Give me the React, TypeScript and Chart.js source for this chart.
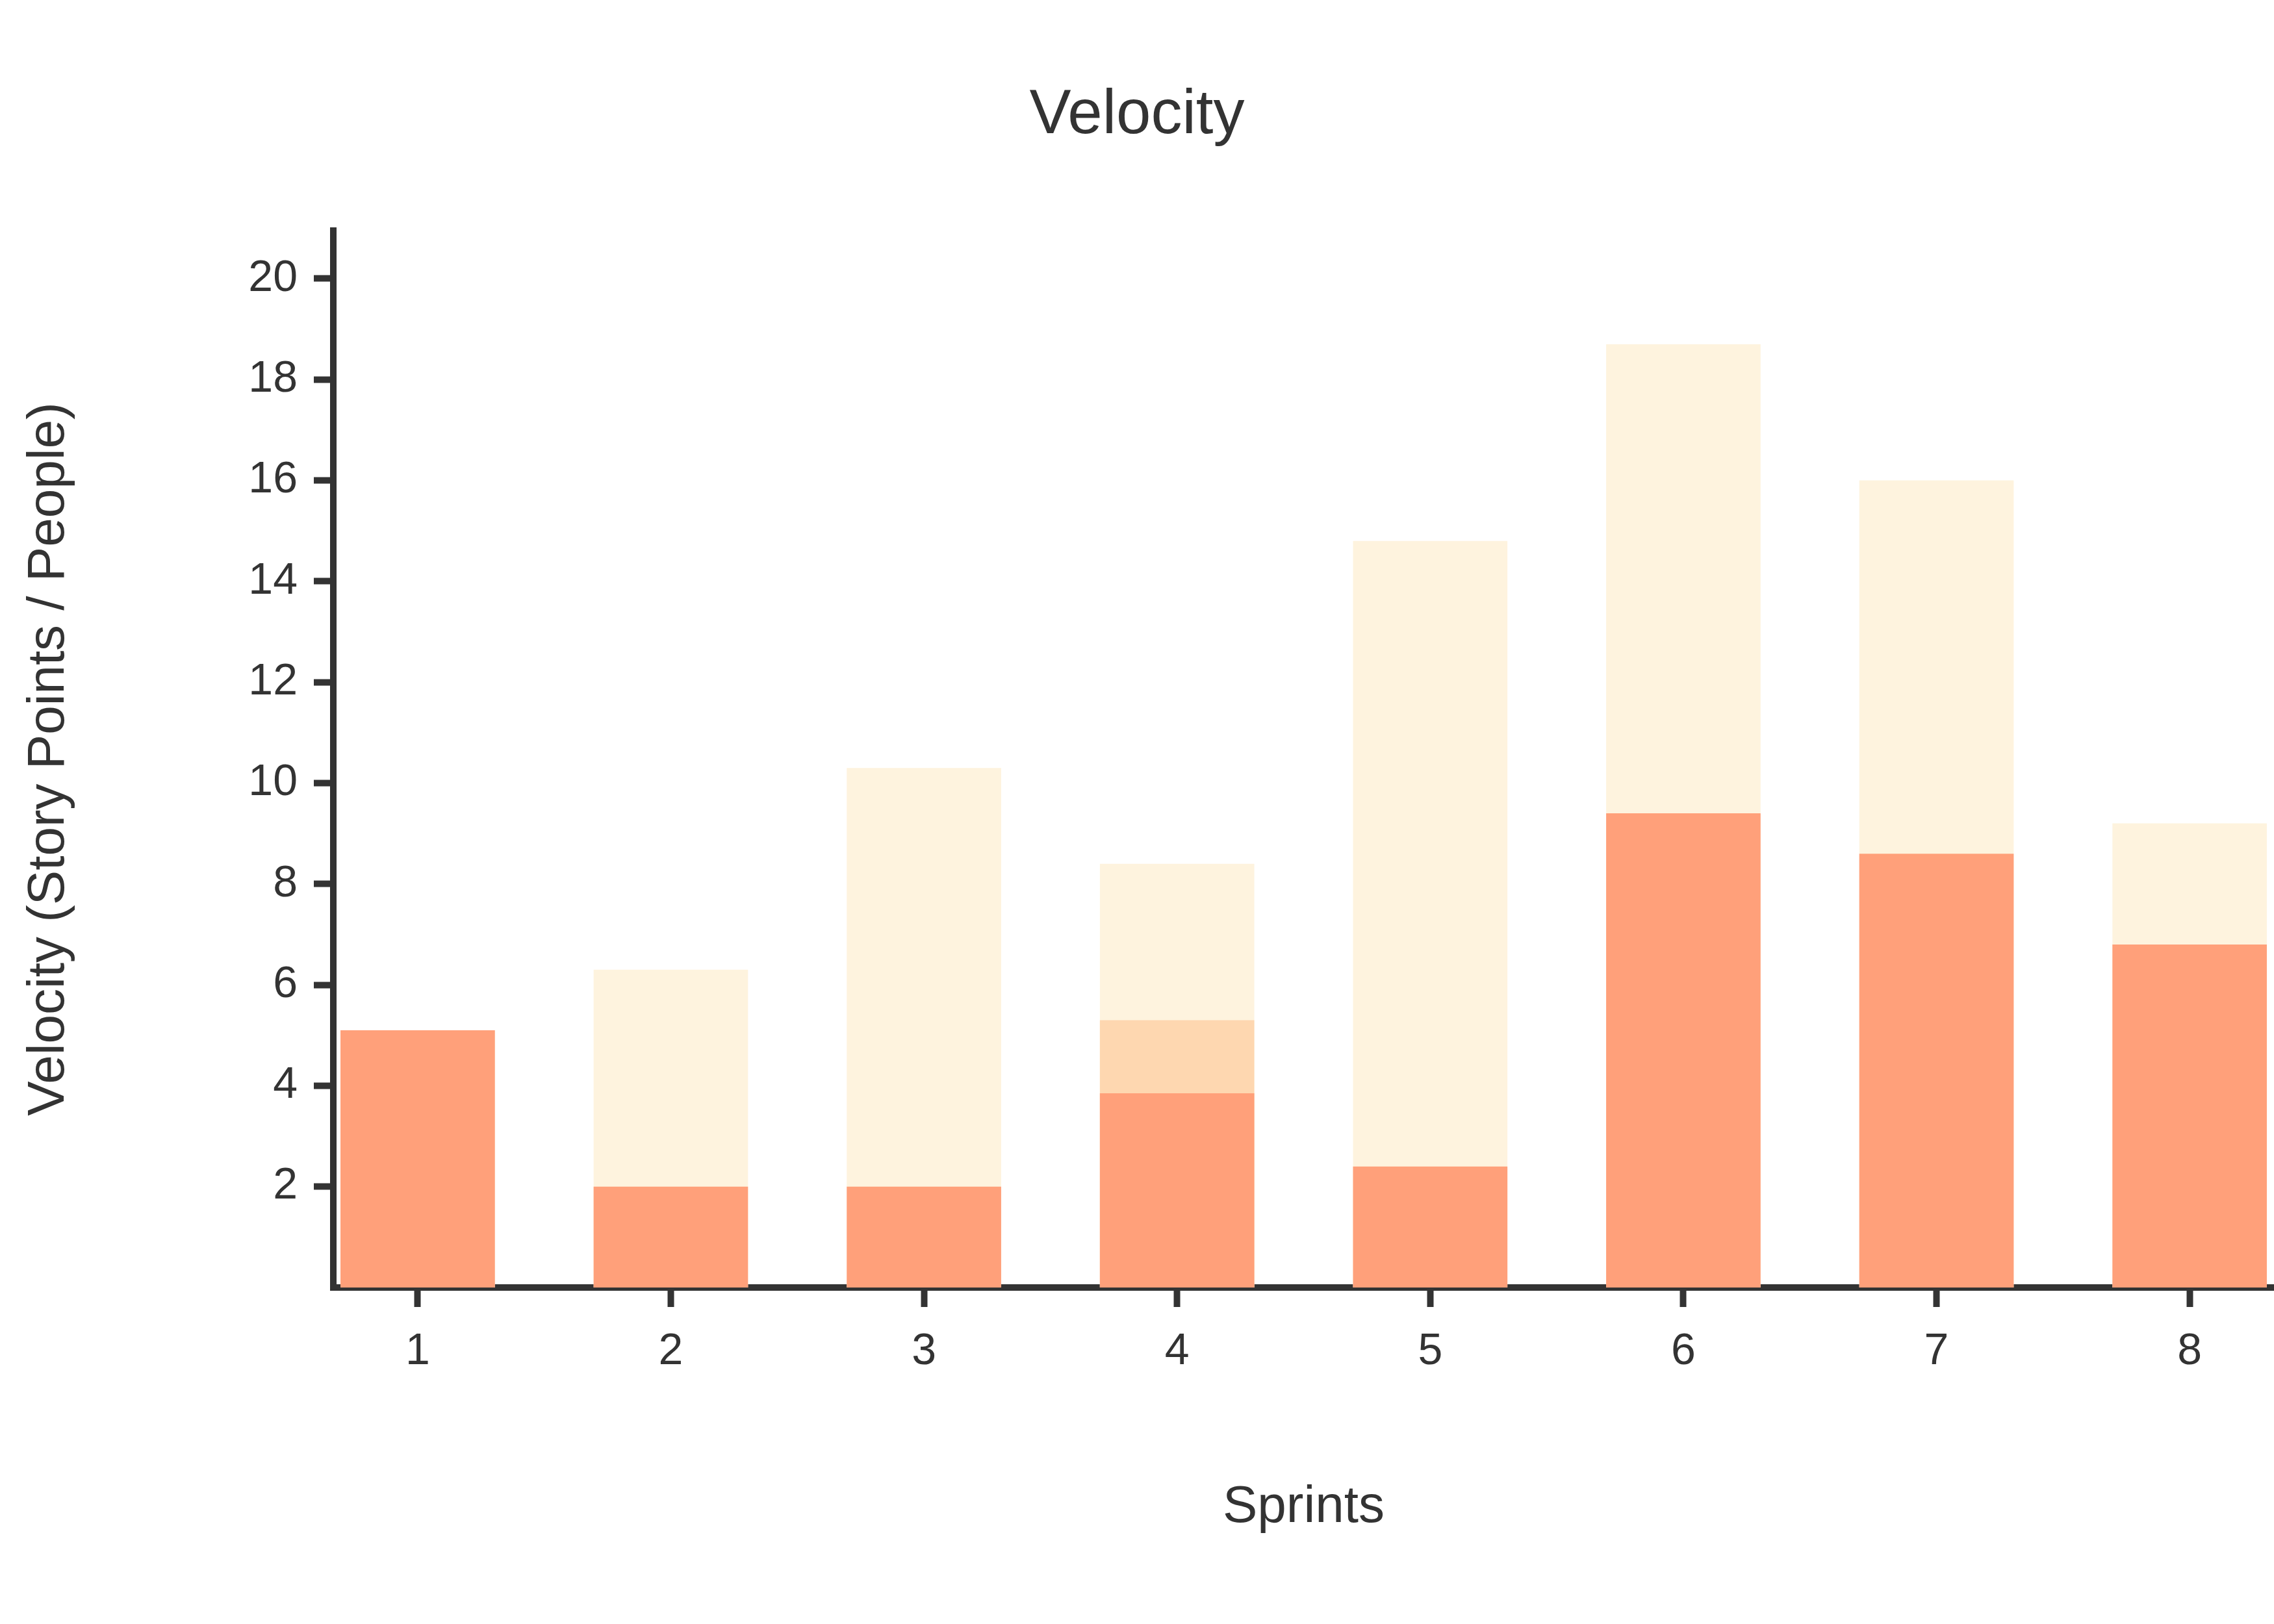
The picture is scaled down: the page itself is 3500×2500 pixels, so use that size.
import React, { useEffect, useRef } from "react";
import { Chart, registerables } from "chart.js";

Chart.register(...registerables);

// ---- data ----
const sprints = [1, 2, 3, 4, 5, 6, 7, 8];
const committed = [5.1, 6.3, 10.3, 8.4, 14.8, 18.7, 16.0, 9.2];
const partial: (number | null)[] = [null, null, null, 5.3, null, null, null, null];
const completed = [5.1, 2.0, 2.0, 3.85, 2.4, 9.4, 8.6, 6.8];
const yTickValues = [2, 4, 6, 8, 10, 12, 14, 16, 18, 20];
const xTickValues = sprints;

const TEXT = "#333333";
const FONT = "'Liberation Sans', Arial, Helvetica, sans-serif";

const toPoints = (vals: (number | null)[]) =>
  sprints.map((s, i) => ({ x: s, y: vals[i] }));

export default function App() {
  const ref = useRef<HTMLCanvasElement | null>(null);

  useEffect(() => {
    if (!ref.current) return;
    const chart = new Chart(ref.current, {
      type: "bar",
      data: {
        datasets: [
          {
            label: "Completed",
            data: toPoints(completed) as any,
            backgroundColor: "#FFA07A",
            borderWidth: 0,
          },
          {
            label: "Partially completed",
            data: toPoints(partial) as any,
            backgroundColor: "#FED7B0",
            borderWidth: 0,
          },
          {
            label: "Committed",
            data: toPoints(committed) as any,
            backgroundColor: "#FEF3DE",
            borderWidth: 0,
          },
        ],
      },
      options: {
        responsive: false,
        animation: false,
        devicePixelRatio: 1,
        datasets: {
          bar: {
            grouped: false,
            categoryPercentage: 1,
            barPercentage: 0.61,
          },
        },
        layout: { padding: 0 },
        plugins: {
          legend: { display: false },
          tooltip: { enabled: false },
          title: {
            display: true,
            text: "Velocity",
            color: TEXT,
            font: { family: FONT, size: 96, weight: "normal" },
            padding: { top: 121, bottom: 119 },
          },
        },
        scales: {
          x: {
            type: "linear",
            offset: false,
            min: 2 / 3,
            max: 8 + 1 / 3,
            afterBuildTicks: (scale: any) => {
              scale.ticks = xTickValues.map((v) => ({ value: v }));
            },
            afterFit: (scale: any) => {
              scale.height = 518;
            },
            ticks: {
              color: TEXT,
              font: { family: FONT, size: 68 },
              padding: 28,
              autoSkip: false,
              maxRotation: 0,
              callback: (v: any) => String(v),
            },
            grid: {
              display: true,
              offset: false,
              drawOnChartArea: false,
              drawTicks: true,
              tickLength: 30,
              tickWidth: 10,
              tickColor: TEXT,
            },
            border: { display: true, color: TEXT, width: 10 },
            title: {
              display: true,
              text: "Sprints",
              color: TEXT,
              font: { family: FONT, size: 80 },
              padding: { top: 0, bottom: 131 },
            },
          },
          y: {
            type: "linear",
            min: 0,
            max: 20.95,
            afterBuildTicks: (scale: any) => {
              scale.ticks = yTickValues.map((v) => ({ value: v }));
            },
            afterFit: (scale: any) => {
              scale.width = 513;
            },
            ticks: {
              color: TEXT,
              font: { family: FONT, size: 68 },
              padding: 25,
              callback: (v: any) => String(v),
            },
            grid: {
              display: true,
              drawOnChartArea: false,
              drawTicks: true,
              tickLength: 30,
              tickWidth: 10,
              tickColor: TEXT,
            },
            border: { display: true, color: TEXT, width: 10 },
            title: {
              display: true,
              text: "Velocity (Story Points / People)",
              color: TEXT,
              font: { family: FONT, size: 80 },
              padding: { top: 28, bottom: 0 },
            },
          },
        },
      } as any,
    });
    return () => chart.destroy();
  }, []);

  return (
    <div style={{ position: "fixed", left: 0, top: 0, width: 3500, height: 2500, background: "#ffffff" }}>
      <canvas ref={ref} width={3500} height={2500} style={{ display: "block", width: 3500, height: 2500 }} />
    </div>
  );
}
